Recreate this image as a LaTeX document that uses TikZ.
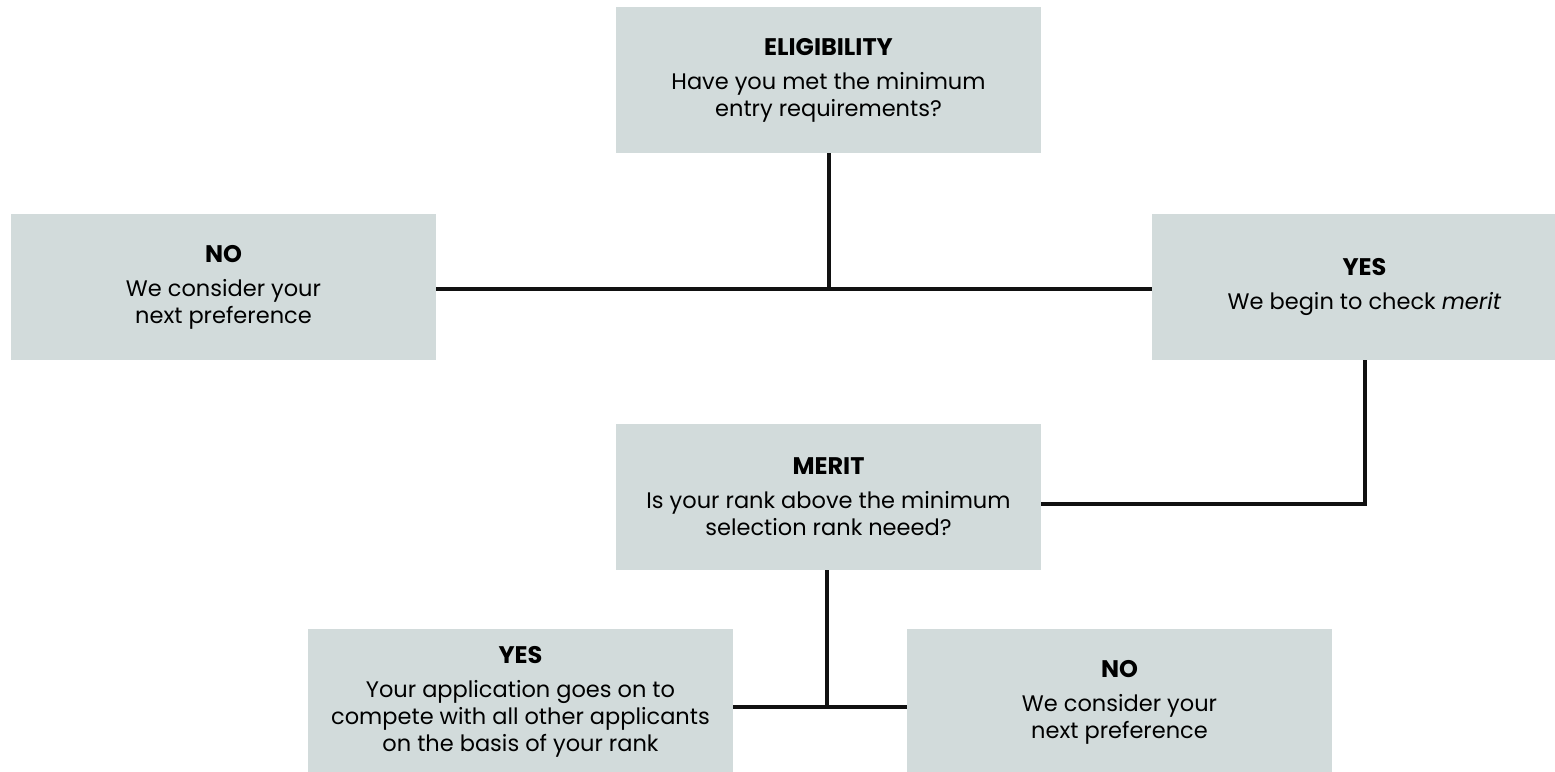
\documentclass[tikz,border=0pt]{standalone}
\usepackage{fontspec}
\setmainfont{Poppins}
\definecolor{boxfill}{HTML}{D2DBDB}
\definecolor{linec}{HTML}{111111}
\newcommand{\boxtitle}[1]{{\fontsize{24}{27}\selectfont\bfseries #1}}
\begin{document}
\begin{tikzpicture}[x=1pt,y=-1pt,
  box/.style={rectangle, fill=boxfill, minimum width=425pt, minimum height=146pt,
    inner sep=0pt, align=center, text=black,
    font=\fontsize{22.5}{27}\selectfont},
  conn/.style={draw=linec, line width=4pt}]
\useasboundingbox (0,0) rectangle (1555,771);
\clip (0,0) rectangle (1555,771);
\node[box] (elig) at (828.5,80) {\boxtitle{ELIGIBILITY}\\[7pt]Have you met the minimum\\entry requirements?};
\node[box] (noL) at (223.5,287) {\boxtitle{NO}\\[7pt]We consider your\\next preference};
\node[box] (yesR) at (1364.5,287) {\boxtitle{YES}\\[7pt]We begin to check \textit{merit}};
\node[box] (merit) at (828.5,497) {\boxtitle{MERIT}\\[7pt]Is your rank above the minimum\\selection rank neeed?};
\node[box] (yesB) at (520.5,702) {\boxtitle{YES}\\[7pt]Your application goes on to\\compete with all other applicants\\on the basis of your rank};
\node[box] (noB) at (1119.5,702) {\boxtitle{NO}\\[7pt]We consider your\\next preference};
\coordinate (j1) at (elig.south |- 0,289);
\coordinate (j2) at ([xshift=-2pt]merit.south |- 0,707);
\draw[conn] (elig.south) -- (j1);
\draw[conn] (noL.east |- j1) -- (yesR.west |- j1);
\draw[conn] (yesR.south) |- ([yshift=-7pt]merit.east);
\draw[conn] ([xshift=-2pt]merit.south) -- (j2);
\draw[conn] (yesB.east |- j2) -- (noB.west |- j2);
\end{tikzpicture}
\end{document}
